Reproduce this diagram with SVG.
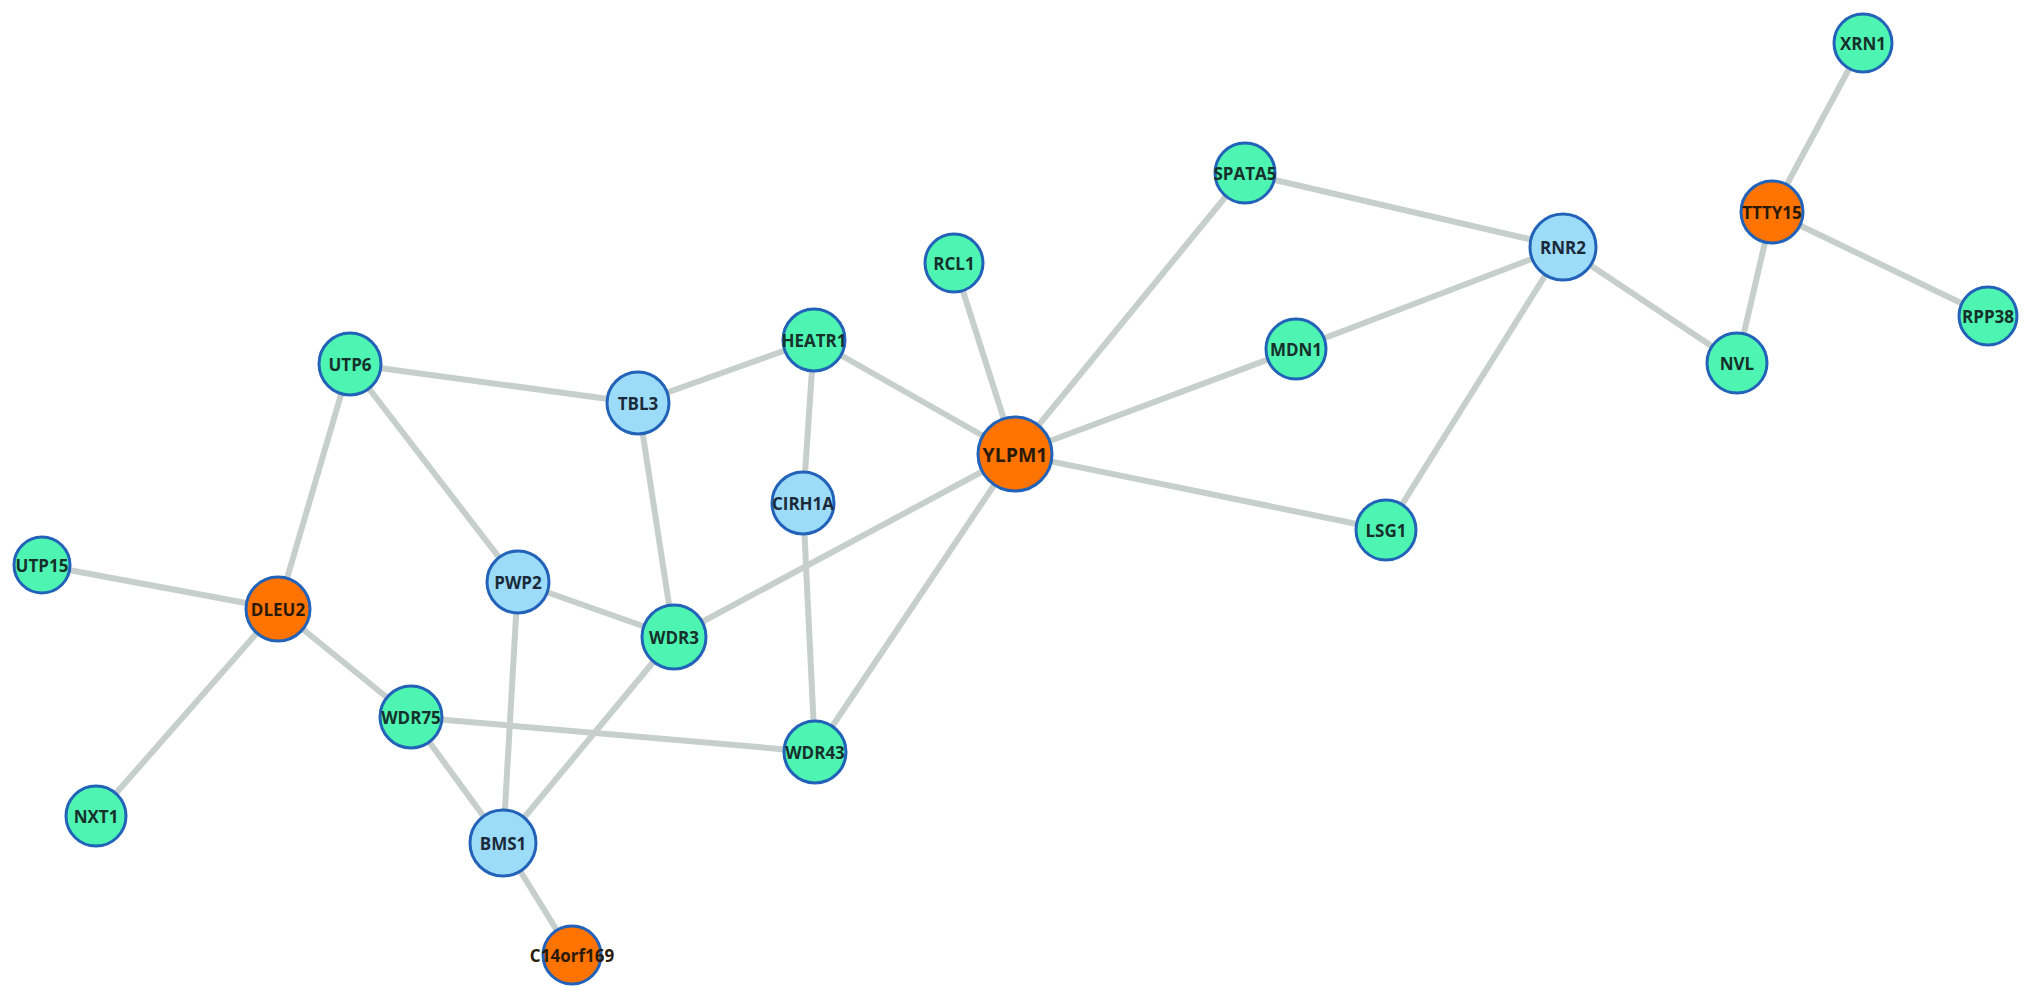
<svg xmlns="http://www.w3.org/2000/svg" width="2031" height="999" viewBox="0 0 2031 999">
<style>
.e{stroke:#c6cfcb;stroke-width:6;stroke-linecap:round;fill:none}
.n circle{stroke:#2262b8;stroke-width:3}
.g circle{fill:#4ef5b2}
.b circle{fill:#9cdcf8}
.o circle{fill:#ff7300}
.n text{font-family:"Open Sans","Noto Sans",sans-serif;font-weight:700;font-size:17px;fill:#16302c;text-anchor:middle;dominant-baseline:central}
.o text{fill:#2a1a0a}
.b text{fill:#1a2a3a}
</style>
<rect width="2031" height="999" fill="#ffffff"/>
<g id="connectors">
<line class="e" x1="350" y1="364" x2="638" y2="403"/>
<line class="e" x1="350" y1="364" x2="278" y2="609"/>
<line class="e" x1="350" y1="364" x2="518" y2="582"/>
<line class="e" x1="42" y1="565" x2="278" y2="609"/>
<line class="e" x1="278" y1="609" x2="96" y2="816"/>
<line class="e" x1="278" y1="609" x2="411" y2="717"/>
<line class="e" x1="638" y1="403" x2="814" y2="340"/>
<line class="e" x1="638" y1="403" x2="674" y2="637"/>
<line class="e" x1="518" y1="582" x2="674" y2="637"/>
<line class="e" x1="518" y1="582" x2="503" y2="843"/>
<line class="e" x1="674" y1="637" x2="1015" y2="454"/>
<line class="e" x1="674" y1="637" x2="503" y2="843"/>
<line class="e" x1="411" y1="717" x2="815" y2="752"/>
<line class="e" x1="411" y1="717" x2="503" y2="843"/>
<line class="e" x1="503" y1="843" x2="572" y2="955"/>
<line class="e" x1="814" y1="340" x2="803" y2="503"/>
<line class="e" x1="814" y1="340" x2="1015" y2="454"/>
<line class="e" x1="803" y1="503" x2="815" y2="752"/>
<line class="e" x1="1015" y1="454" x2="815" y2="752"/>
<line class="e" x1="954" y1="263" x2="1015" y2="454"/>
<line class="e" x1="1015" y1="454" x2="1245" y2="173"/>
<line class="e" x1="1015" y1="454" x2="1296" y2="349"/>
<line class="e" x1="1015" y1="454" x2="1386" y2="530"/>
<line class="e" x1="1245" y1="173" x2="1563" y2="247"/>
<line class="e" x1="1296" y1="349" x2="1563" y2="247"/>
<line class="e" x1="1386" y1="530" x2="1563" y2="247"/>
<line class="e" x1="1563" y1="247" x2="1737" y2="363"/>
<line class="e" x1="1737" y1="363" x2="1772" y2="212"/>
<line class="e" x1="1772" y1="212" x2="1863" y2="43"/>
<line class="e" x1="1772" y1="212" x2="1988" y2="316"/>
</g>
<g id="UTP6" class="n g"><circle cx="350" cy="364" r="31"/><text x="350" y="364">UTP6</text></g>
<g id="TBL3" class="n b"><circle cx="638" cy="403" r="31"/><text x="638" y="403">TBL3</text></g>
<g id="UTP15" class="n g"><circle cx="42" cy="565" r="28"/><text x="42" y="565">UTP15</text></g>
<g id="DLEU2" class="n o"><circle cx="278" cy="609" r="32"/><text x="278" y="609">DLEU2</text></g>
<g id="PWP2" class="n b"><circle cx="518" cy="582" r="31"/><text x="518" y="582">PWP2</text></g>
<g id="WDR3" class="n g"><circle cx="674" cy="637" r="32"/><text x="674" y="637">WDR3</text></g>
<g id="WDR75" class="n g"><circle cx="411" cy="717" r="31"/><text x="411" y="717">WDR75</text></g>
<g id="WDR43" class="n g"><circle cx="815" cy="752" r="31"/><text x="815" y="752">WDR43</text></g>
<g id="BMS1" class="n b"><circle cx="503" cy="843" r="33"/><text x="503" y="843">BMS1</text></g>
<g id="C14orf169" class="n o"><circle cx="572" cy="955" r="29"/><text x="572" y="955">C14orf169</text></g>
<g id="NXT1" class="n g"><circle cx="96" cy="816" r="30"/><text x="96" y="816">NXT1</text></g>
<g id="RCL1" class="n g"><circle cx="954" cy="263" r="29"/><text x="954" y="263">RCL1</text></g>
<g id="HEATR1" class="n g"><circle cx="814" cy="340" r="31"/><text x="814" y="340">HEATR1</text></g>
<g id="CIRH1A" class="n b"><circle cx="803" cy="503" r="31"/><text x="803" y="503">CIRH1A</text></g>
<g id="YLPM1" class="n o"><circle cx="1015" cy="454" r="37"/><text x="1015" y="454" style="font-size:19.5px">YLPM1</text></g>
<g id="SPATA5" class="n g"><circle cx="1245" cy="173" r="30"/><text x="1245" y="173">SPATA5</text></g>
<g id="RNR2" class="n b"><circle cx="1563" cy="247" r="33"/><text x="1563" y="247">RNR2</text></g>
<g id="MDN1" class="n g"><circle cx="1296" cy="349" r="30"/><text x="1296" y="349">MDN1</text></g>
<g id="LSG1" class="n g"><circle cx="1386" cy="530" r="30"/><text x="1386" y="530">LSG1</text></g>
<g id="XRN1" class="n g"><circle cx="1863" cy="43" r="29"/><text x="1863" y="43">XRN1</text></g>
<g id="TTTY15" class="n o"><circle cx="1772" cy="212" r="31"/><text x="1772" y="212">TTTY15</text></g>
<g id="RPP38" class="n g"><circle cx="1988" cy="316" r="29"/><text x="1988" y="316">RPP38</text></g>
<g id="NVL" class="n g"><circle cx="1737" cy="363" r="30"/><text x="1737" y="363">NVL</text></g>
</svg>
